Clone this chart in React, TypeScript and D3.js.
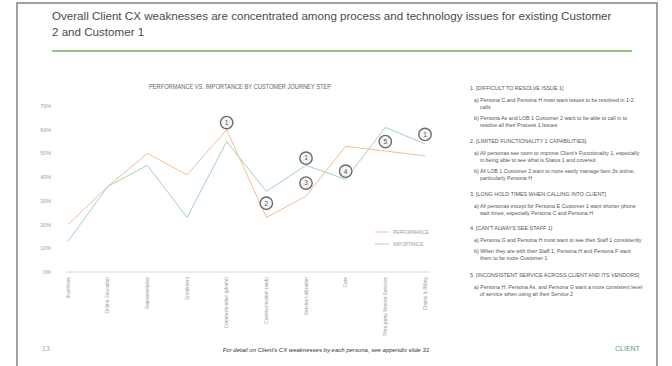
import React from "react";
import * as d3 from "d3";

const categories = [
  "Incentives",
  "Online Education",
  "Representative",
  "Enrollment",
  "Communication (phone)",
  "Communication (web)",
  "Service Utilization",
  "Care",
  "Third-party Vendor Services",
  "Claims & Billing",
];
const performance = [20, 36, 50, 41, 60, 23, 32, 53, 51, 49];
const importance = [13, 36, 45, 23, 55, 34, 45, 39, 61, 54];
const yTicks = [0, 10, 20, 30, 40, 50, 60, 70];
const annotationLabels = ["1", "2", "1", "3", "4", "5", "1"];
const annotationCategories = [
  "Communication (phone)",
  "Communication (web)",
  "Service Utilization",
  "Service Utilization",
  "Care",
  "Third-party Vendor Services",
  "Claims & Billing",
];
const annotationValues = [63, 29, 48, 37.5, 42.5, 55, 58];

const titleLines = [
  "Overall Client CX weaknesses are concentrated among process and technology issues for existing Customer",
  "2 and Customer 1",
];
const chartTitle = "PERFORMANCE VS. IMPORTANCE BY CUSTOMER JOURNEY STEP";
const seriesNames = ["PERFORMANCE", "IMPORTANCE"];

const panelHeaders = [
  "1. [DIFFICULT TO RESOLVE ISSUE 1]",
  "2. [LIMITED FUNCTIONALITY 1 CAPABILITIES]",
  "3. [LONG HOLD TIMES WHEN CALLING INTO CLIENT]",
  "4. [CAN'T ALWAYS SEE STAFF 1]",
  "5. [INCONSISTENT SERVICE ACROSS CLIENT AND ITS VENDORS]",
];
const panelBullets: string[][][] = [
  [
    ["a) Persona C and Persona H most want issues to be resolved in 1-2", "calls"],
    ["b) Persona As and LOB 1 Customer 2 want to be able to call in to", "resolve all their Process 1 Issues"],
  ],
  [
    ["a) All personas see room to improve Client's Functionality 1, especially", "in being able to see what is Status 1 and covered"],
    ["b) All LOB 1 Customer 2 want to more easily manage Item 3s online,", "particularly Persona H"],
  ],
  [["a) All personas except for Persona E Customer 1 want shorter phone", "wait times, especially Persona C and Persona H"]],
  [
    ["a) Persona G and Persona H most want to see their Staff 1 consistently"],
    ["b) When they are with their Staff 1, Persona H and Persona F want", "them to be more Customer 1"],
  ],
  [["a) Persona H, Persona As, and Persona G want a more consistent level", "of service when using all their Service 2"]],
];
const panelHeaderY = [90, 143, 196, 230, 277];

const footerNote = "For detail on Client's CX weaknesses by each persona, see appendix slide 31";

const ORANGE = "#f5bd94";
const GREEN = "#a2d4b6";
const FONT = "'Liberation Sans', Arial, sans-serif";

export default function App() {
  const x = d3.scalePoint<string>().domain(categories).range([68, 425]);
  const y = d3.scaleLinear().domain([0, 70]).range([272, 106]);
  const line = d3
    .line<number>()
    .x((_, i) => x(categories[i]) as number)
    .y((d) => y(d));

  const panelItems: React.ReactNode[] = [];
  panelHeaders.forEach((h, i) => {
    let yy = panelHeaderY[i];
    panelItems.push(
      <text key={`h${i}`} x={470} y={yy} fontSize={5.4} fill="#555">
        {h}
      </text>
    );
    yy += 12;
    panelBullets[i].forEach((b, j) => {
      b.forEach((ln, k) => {
        panelItems.push(
          <text key={`b${i}-${j}-${k}`} x={k === 0 ? 474 : 480} y={yy} fontSize={5.3} fill="#555">
            {ln}
          </text>
        );
        yy += 7;
      });
      yy += 4;
    });
  });

  return (
    <svg
      width={672}
      height={366}
      style={{ position: "absolute", left: 0, top: 0, background: "#fff" }}
      fontFamily={FONT}
    >
      <rect x={0} y={0} width={672} height={366} fill="#fff" />
      <rect x={17} y={3} width={640} height={380} fill="none" stroke="#8a8a8a" strokeWidth={1.6} />

      {titleLines.map((t, i) => (
        <text key={i} x={52} y={20 + i * 16} fontSize={11.6} fill="#4a4a4a">
          {t}
        </text>
      ))}
      <line x1={52} x2={632} y1={51} y2={51} stroke="#6fb35a" strokeWidth={1.4} />

      <text x={240} y={89} fontSize={7.2} fill="#666" textAnchor="middle" textLength={182} lengthAdjust="spacingAndGlyphs">
        {chartTitle}
      </text>

      {yTicks.map((t) => (
        <text key={t} x={51} y={y(t) + 2} fontSize={5.4} fill="#a0a0a0" textAnchor="end">
          {t}%
        </text>
      ))}
      <line x1={66} x2={430} y1={y(0)} y2={y(0)} stroke="#d9d9d9" strokeWidth={1} />

      {categories.map((c) => (
        <text
          key={c}
          transform={`translate(${(x(c) as number) + 1.8},${y(0) + 5}) rotate(-90)`}
          fontSize={4.8}
          fill="#9a9a9a"
          textAnchor="end"
        >
          {c}
        </text>
      ))}

      <path d={line(performance) as string} fill="none" stroke={ORANGE} strokeWidth={1} />
      <path d={line(importance) as string} fill="none" stroke={GREEN} strokeWidth={1} />

      {annotationValues.map((v, i) => {
        const cx = x(annotationCategories[i]) as number;
        const cy = y(v);
        return (
          <g key={i}>
            <circle cx={cx} cy={cy} r={6.2} fill="#f4f4f4" stroke="#6a6a6a" strokeWidth={1.4} />
            <text x={cx} y={cy + 2.3} fontSize={6.5} fill="#555" textAnchor="middle">
              {annotationLabels[i]}
            </text>
          </g>
        );
      })}

      {seriesNames.map((s, i) => (
        <g key={s}>
          <line x1={375} x2={389} y1={232 + i * 12} y2={232 + i * 12} stroke={i === 0 ? ORANGE : GREEN} strokeWidth={1} />
          <text x={393} y={233.6 + i * 12} fontSize={4.6} fill="#a0a0a0">
            {s}
          </text>
        </g>
      ))}

      {panelItems}

      <text x={42} y={351} fontSize={7} fill="#a8a8a8">
        13
      </text>
      <text x={326} y={352} fontSize={6} fill="#333" textAnchor="middle" fontStyle="italic">
        {footerNote}
      </text>
      <text x={615} y={351} fontSize={7} fill="#5c9a8a">
        CLIENT
      </text>
    </svg>
  );
}
